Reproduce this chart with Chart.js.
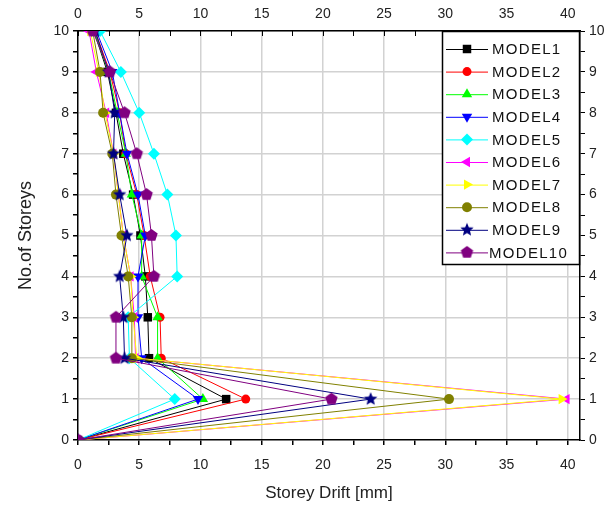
<!DOCTYPE html>
<html>
<head>
<meta charset="utf-8">
<script src="https://cdn.jsdelivr.net/npm/chart.js@4/dist/chart.umd.min.js"></script>
<style>
  html, body { margin: 0; padding: 0; background: #fff; }
</style>
</head>
<body>
<canvas id="driftChart" width="611" height="509"></canvas>
<script>
// storey levels and drift (mm) per model
const storeys = [0, 1, 2, 3, 4, 5, 6, 7, 8, 9, 10];
const model1  = [0, 12.1, 5.8, 5.7, 5.5, 5.1, 4.5, 3.7, 3.1, 2.4, 1.3];
const model2  = [0, 13.7, 6.8, 6.7, 5.9, 5.4, 4.8, 3.9, 3.4, 2.6, 1.4];
const model3  = [0, 10.2, 6.5, 6.5, 5.2, 5.2, 4.4, 3.9, 3.2, 2.5, 1.3];
const model4  = [0, 9.8, 5.2, 4.9, 4.9, 5.5, 4.9, 4.0, 3.4, 2.8, 1.5];
const model5  = [0, 7.9, 4.2, 4.1, 8.1, 8.0, 7.3, 6.2, 5.0, 3.5, 1.8];
const model6  = [0, 39.9, 4.7, 4.6, 4.3, 3.7, 3.3, 2.9, 2.3, 1.5, 0.9];
const model7  = [0, 39.5, 4.8, 4.5, 4.3, 3.7, 3.3, 2.9, 2.2, 1.7, 1.0];
const model8  = [0, 30.3, 4.4, 4.4, 4.1, 3.55, 3.1, 2.8, 2.05, 1.8, 1.2];
const model9  = [0, 23.9, 3.8, 3.7, 3.4, 4.0, 3.4, 2.9, 3.0, 2.5, 1.4];
const model10 = [0, 20.7, 3.1, 3.1, 6.2, 6.0, 5.6, 4.8, 3.8, 2.6, 1.2];

const modelNames = ['MODEL1', 'MODEL2', 'MODEL3', 'MODEL4', 'MODEL5',
                    'MODEL6', 'MODEL7', 'MODEL8', 'MODEL9', 'MODEL10'];
const xTicks = [0, 5, 10, 15, 20, 25, 30, 35, 40];
const yTicks = [0, 1, 2, 3, 4, 5, 6, 7, 8, 9, 10];

const FONT = "'Liberation Sans', Arial, sans-serif";

// filled star / pentagon markers (Chart.js has no filled versions)
function polyMarker(color, points, inner, r) {
    const size = Math.ceil(r * 2 + 2);
    const c = document.createElement('canvas');
    c.width = c.height = size;
    const g = c.getContext('2d');
    const n = inner ? points * 2 : points;
    g.fillStyle = color;
    g.beginPath();
    for (let i = 0; i < n; i++) {
        const rr = (inner && i % 2) ? r * inner : r;
        const a = -Math.PI / 2 + i * 2 * Math.PI / n;
        const px = size / 2 + rr * Math.cos(a), py = size / 2 + rr * Math.sin(a);
        if (i === 0) g.moveTo(px, py); else g.lineTo(px, py);
    }
    g.closePath();
    g.fill();
    return c;
}

const series = [model1, model2, model3, model4, model5, model6, model7, model8, model9, model10];
const colors = ['#000000', '#ff0000', '#00ff00', '#0000ff', '#00ffff',
                '#ff00ff', '#ffff00', '#808000', '#000080', '#800080'];
const styles = [
    { pointStyle: 'rect', rotation: 0, radius: 6 },
    { pointStyle: 'circle', rotation: 0, radius: 4.5 },
    { pointStyle: 'triangle', rotation: 0, radius: 6 },
    { pointStyle: 'triangle', rotation: 180, radius: 6 },
    { pointStyle: 'rectRot', rotation: 0, radius: 6 },
    { pointStyle: 'triangle', rotation: 270, radius: 6 },
    { pointStyle: 'triangle', rotation: 90, radius: 6 },
    { pointStyle: 'circle', rotation: 0, radius: 5 },
    { pointStyle: polyMarker('#000080', 5, 0.45, 7), rotation: 0, radius: 6 },
    { pointStyle: polyMarker('#800080', 5, 0, 6.5), rotation: 0, radius: 6 }
];

const datasets = series.map((vals, i) => ({
    label: modelNames[i],
    data: vals.map((v, k) => ({ x: v, y: storeys[k] })),
    borderColor: colors[i],
    backgroundColor: colors[i],
    borderWidth: 1,
    pointStyle: styles[i].pointStyle,
    pointRotation: styles[i].rotation,
    pointRadius: styles[i].radius,
    pointBorderWidth: 0,
    order: series.length - i,
    tension: 0
}));

const GRID = '#d2d2d2';

function minorTicks(max, step) {
    const out = [];
    for (let v = 0; v <= max + 1e-9; v += step) out.push({ value: +v.toFixed(2) });
    return out;
}

// top axis ticks point inwards, legend sits in the top-right corner
const framePlugin = {
    id: 'frame',
    afterDraw(chart) {
        const ctx = chart.ctx;
        const area = chart.chartArea;
        const sx = chart.scales.x;
        ctx.save();
        ctx.strokeStyle = '#000';
        ctx.lineWidth = 1;
        ctx.beginPath();
        for (let v = 0; v <= 40; v += 2.5) {
            const px = Math.round(sx.getPixelForValue(v)) + 0.5;
            ctx.moveTo(px, area.top);
            ctx.lineTo(px, area.top + 5);
        }
        ctx.stroke();

        // legend
        const boxW = 138, boxH = 234;
        const bx = area.right - boxW, by = area.top;
        ctx.fillStyle = '#fff';
        ctx.fillRect(bx, by, boxW, boxH);
        ctx.strokeStyle = '#000';
        ctx.lineWidth = 1.5;
        ctx.strokeRect(bx + 0.5, by + 0.5, boxW - 1, boxH - 1);
        ctx.font = '15px ' + FONT;
        ctx.letterSpacing = '1.3px';
        ctx.textBaseline = 'middle';
        chart.data.datasets.forEach((ds, i) => {
            const y = by + 18 + i * 22.6;
            ctx.strokeStyle = ds.borderColor;
            ctx.lineWidth = 1;
            ctx.beginPath();
            ctx.moveTo(bx + 4, y + 0.5);
            ctx.lineTo(bx + 46, y + 0.5);
            ctx.stroke();
            ctx.fillStyle = ds.backgroundColor;
            ctx.strokeStyle = ds.borderColor;
            Chart.helpers.drawPoint(ctx, {
                pointStyle: ds.pointStyle,
                rotation: ds.pointRotation,
                radius: ds.pointRadius,
                borderWidth: 0
            }, bx + 25, y);
            ctx.fillStyle = '#111';
            ctx.fillText(ds.label, bx + (i === 9 ? 47 : 50), y + 1);
        });
        ctx.restore();
    }
};

new Chart(document.getElementById('driftChart').getContext('2d'), {
    type: 'line',
    data: { datasets: datasets },
    plugins: [framePlugin],
    options: {
        responsive: false,
        animation: false,
        layout: { padding: 0 },
        plugins: { legend: { display: false }, tooltip: { enabled: false } },
        scales: {
            x: {
                type: 'linear', position: 'bottom', min: 0, max: 41,
                afterBuildTicks: s => { s.ticks = minorTicks(40, 2.5); },
                afterFit: s => { s.height = 69; },
                ticks: {
                    autoSkip: false, maxRotation: 0, padding: 12,
                    color: '#222', font: { family: FONT, size: 14 },
                    callback: v => xTicks.includes(v) ? String(v) : ''
                },
                grid: {
                    color: c => (c.tick && xTicks.includes(c.tick.value) && c.tick.value > 0) ? GRID : 'rgba(0,0,0,0)',
                    lineWidth: 1.5, tickColor: '#000', tickLength: 5
                },
                border: { color: '#000', width: 1.5 },
                title: {
                    display: true, text: 'Storey Drift [mm]', color: '#222',
                    font: { family: FONT, size: 17 }, padding: { top: 4, bottom: 5 }
                }
            },
            x2: {
                type: 'linear', position: 'top', min: 0, max: 41,
                afterBuildTicks: s => { s.ticks = xTicks.map(v => ({ value: v })); },
                afterFit: s => { s.height = 31; },
                ticks: {
                    autoSkip: false, maxRotation: 0, padding: 8,
                    color: '#222', font: { family: FONT, size: 14 }
                },
                grid: { drawOnChartArea: false, drawTicks: false },
                border: { color: '#000', width: 1.5 }
            },
            y: {
                type: 'linear', position: 'left', min: 0, max: 10,
                afterBuildTicks: s => { s.ticks = minorTicks(10, 0.5); },
                afterFit: s => { s.width = 78; },
                ticks: {
                    autoSkip: false, padding: 4,
                    color: '#222', font: { family: FONT, size: 14 },
                    callback: v => yTicks.includes(v) ? String(v) : ''
                },
                grid: {
                    color: c => (c.tick && yTicks.includes(c.tick.value) && c.tick.value > 0) ? GRID : 'rgba(0,0,0,0)',
                    lineWidth: 1.5, tickColor: '#000', tickLength: 5
                },
                border: { color: '#000', width: 1.5 },
                title: {
                    display: true, text: 'No.of Storeys', color: '#222',
                    font: { family: FONT, size: 18 }, padding: { top: 15, bottom: 0 }
                }
            },
            y2: {
                type: 'linear', position: 'right', min: 0, max: 10,
                afterBuildTicks: s => { s.ticks = minorTicks(10, 0.5); },
                afterFit: s => { s.width = 31; },
                ticks: {
                    autoSkip: false, padding: 4,
                    color: '#222', font: { family: FONT, size: 14 },
                    callback: v => yTicks.includes(v) ? String(v) : ''
                },
                grid: { drawOnChartArea: false, tickColor: '#000', tickLength: 5 },
                border: { color: '#000', width: 1.5 }
            }
        }
    }
});
</script>
</body>
</html>
